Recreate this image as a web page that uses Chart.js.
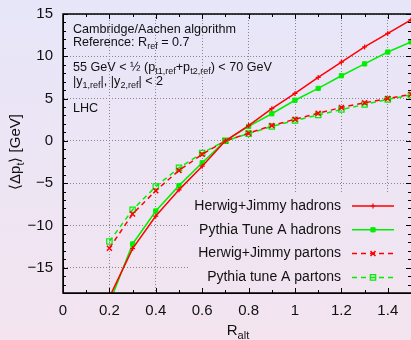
<!DOCTYPE html>
<html>
<head>
<meta charset="utf-8">
<script src="https://cdn.jsdelivr.net/npm/chart.js@4/dist/chart.umd.min.js"></script>
<style>
  html, body { margin: 0; padding: 0; }
  body {
    width: 411px; height: 340px; overflow: hidden;
    background: linear-gradient(#e7e6f9, #f3e4ef);
  }
</style>
</head>
<body>
<canvas id="chart" width="411" height="340"></canvas>
<script>
// ------------------------------------------------------------
// DATA
// ------------------------------------------------------------
const R_ALT = [0.2, 0.3, 0.4, 0.5, 0.6, 0.7, 0.8, 0.9, 1.0, 1.1, 1.2, 1.3, 1.4, 1.5];

const herwigHadrons  = [-18.5, -12.75, -8.9, -5.8, -3.0, 0.0, 1.8, 3.8, 5.6, 7.5, 9.3, 11.1, 12.7, 14.3];
const pythiaHadrons  = [-19.2, -12.2, -8.3, -5.3, -2.6, 0.0, 1.7, 3.2, 4.8, 6.2, 7.7, 9.1, 10.5, 11.7];
const herwigPartons  = [-12.7, -8.65, -5.9, -3.5, -1.6, 0.0, 0.9, 1.8, 2.55, 3.25, 3.95, 4.5, 5.0, 5.5];
const pythiaPartons  = [-11.9, -8.15, -5.4, -3.2, -1.45, 0.0, 0.85, 1.7, 2.4, 3.05, 3.7, 4.3, 4.9, 5.4];

const SERIES_LABELS = [
  "Herwig+Jimmy hadrons",
  "Pythia Tune A hadrons",
  "Herwig+Jimmy partons",
  "Pythia tune A partons"
];

const X_TICKS       = [0, 0.2, 0.4, 0.6, 0.8, 1.0, 1.2, 1.4];
const X_MINOR_TICKS = [0.1, 0.3, 0.5, 0.7, 0.9, 1.1, 1.3, 1.5];
const Y_TICKS       = [-15, -10, -5, 0, 5, 10, 15];
const Y_MINOR_TICKS = [-18, -17, -16, -14, -13, -12, -11, -9, -8, -7, -6, -4, -3, -2, -1,
                       1, 2, 3, 4, 6, 7, 8, 9, 11, 12, 13, 14];

// annotation lines: [text, subscript?]
const INFO_LINES = [
  [["Cambridge/Aachen algorithm"]],
  [["Reference: R"], ["ref", 1], [" = 0.7"]],
  [["55 GeV < \u00bd (p"], ["t1,ref", 1], ["+p"], ["t2,ref", 1], [") < 70 GeV"]],
  [["|y"], ["1,ref", 1], ["|, |y"], ["2,ref", 1], ["| < 2"]],
  [["LHC"]]
];

// ------------------------------------------------------------
// HELFER
// ------------------------------------------------------------
const FONT = '"Liberation Sans", Arial, Helvetica, sans-serif';
const RED = "#ff0000";
const GREEN = "#00ee00";

function pts(values) {
  return values.map((v, i) => ({ x: R_ALT[i], y: v }));
}

function makeDataset(label, values, color, style, dashed) {
  return {
    label,
    data: pts(values),
    borderColor: color,
    backgroundColor: color,
    borderWidth: 1.5,
    borderDash: dashed ? [5, 4] : [],
    pointStyle: style.shape,
    pointRadius: style.r,
    pointBorderWidth: style.bw,
    pointBackgroundColor: style.fill ? color : "rgba(0,0,0,0)",
    pointBorderColor: color,
    tension: 0,
    clip: 0
  };
}

function fmtY(v) {
  return v < 0 ? "\u2212" + Math.abs(v) : String(v);
}

function richText(ctx, parts, x, y, size, align) {
  const big = size + "px " + FONT;
  const small = Math.round(size * 0.72) + "px " + FONT;
  let w = 0;
  parts.forEach(([t, sub]) => { ctx.font = sub ? small : big; w += ctx.measureText(t).width; });
  let cx = align === "right" ? x - w : align === "center" ? x - w / 2 : x;
  parts.forEach(([t, sub]) => {
    ctx.font = sub ? small : big;
    ctx.fillText(t, cx, sub ? y + size * 0.3 : y);
    cx += ctx.measureText(t).width;
  });
}

// legend box, inner ticks, frame and annotations
const decorations = {
  id: "decorations",
  beforeDatasetsDraw(chart) {
    const { ctx, chartArea: a } = chart;
    ctx.clearRect(188, 192, a.right - 188, a.bottom - 192);
  },
  afterDatasetsDraw(chart) {
    const { ctx, chartArea: a, scales: { x, y } } = chart;
    ctx.save();
    ctx.strokeStyle = "#000";
    ctx.lineWidth = 1;
    ctx.beginPath();
    const tick = (px, len, vertical) => {
      if (vertical) {
        ctx.moveTo(px, a.bottom); ctx.lineTo(px, a.bottom - len);
        ctx.moveTo(px, a.top);    ctx.lineTo(px, a.top + len);
      } else {
        ctx.moveTo(a.left, px);  ctx.lineTo(a.left + len, px);
        ctx.moveTo(a.right, px); ctx.lineTo(a.right - len, px);
      }
    };
    X_TICKS.forEach(v => tick(Math.round(x.getPixelForValue(v)) + 0.5, 5, true));
    X_MINOR_TICKS.forEach(v => tick(Math.round(x.getPixelForValue(v)) + 0.5, 3, true));
    Y_TICKS.forEach(v => tick(Math.round(y.getPixelForValue(v)) + 0.5, 5, false));
    Y_MINOR_TICKS.forEach(v => tick(Math.round(y.getPixelForValue(v)) + 0.5, 3, false));
    ctx.stroke();
    ctx.lineWidth = 1.5;
    ctx.strokeRect(a.left, a.top, a.right - a.left + 4, a.bottom - a.top);

    // annotations top left
    ctx.fillStyle = "#111";
    ctx.textBaseline = "middle";
    const infoY = [30, 43, 68, 82, 109];
    INFO_LINES.forEach((parts, i) => richText(ctx, parts, a.left + 10, infoY[i], 12.6, "left"));

    // legend
    chart.data.datasets.forEach((ds, i) => {
      const ly = 206 + i * 23.8;
      ctx.fillStyle = "#111";
      ctx.textAlign = "left";
      richText(ctx, [[ds.label]], 341, ly, 14, "right");
      ctx.save();
      ctx.strokeStyle = ds.borderColor;
      ctx.lineWidth = ds.borderWidth;
      ctx.setLineDash(ds.borderDash);
      ctx.beginPath();
      ctx.moveTo(352, ly); ctx.lineTo(394, ly);
      ctx.stroke();
      ctx.restore();
      ctx.save();
      ctx.strokeStyle = ds.pointBorderColor;
      ctx.fillStyle = ds.pointBackgroundColor;
      ctx.lineWidth = ds.pointBorderWidth;
      Chart.helpers.drawPoint(ctx, { pointStyle: ds.pointStyle, radius: ds.pointRadius, rotation: 0, borderWidth: ds.pointBorderWidth }, 373, ly);
      ctx.restore();
    });

    // axis titles
    ctx.fillStyle = "#111";
    richText(ctx, [["R"], ["alt", 1]], 238, 331, 15, "center");
    ctx.translate(16, 152);
    ctx.rotate(-Math.PI / 2);
    richText(ctx, [["\u27e8\u0394p"], ["t", 1], ["\u27e9 [GeV]"]], 0, 0, 15, "center");
    ctx.restore();
  }
};

// ------------------------------------------------------------
// CHART
// ------------------------------------------------------------
const datasets = [
  makeDataset(SERIES_LABELS[0], herwigHadrons, RED,   { shape: "cross",    r: 2.5, bw: 1.2, fill: false }, false),
  makeDataset(SERIES_LABELS[1], pythiaHadrons, GREEN, { shape: "rect",     r: 3,   bw: 1,   fill: true  }, false),
  makeDataset(SERIES_LABELS[2], herwigPartons, RED,   { shape: "crossRot", r: 3.5, bw: 1.5, fill: false }, true),
  makeDataset(SERIES_LABELS[3], pythiaPartons, GREEN, { shape: "rect",     r: 3.8, bw: 1.2, fill: false }, true)
];

new Chart(document.getElementById("chart"), {
  type: "line",
  data: { datasets },
  options: {
    responsive: false,
    animation: false,
    layout: { autoPadding: false, padding: { top: 14, right: 0, left: 0, bottom: 0 } },
    plugins: {
      legend: { display: false },
      tooltip: { enabled: false }
    },
    scales: {
      x: {
        type: "linear",
        min: 0,
        max: 1.5,
        afterBuildTicks: s => { s.ticks = X_TICKS.map(v => ({ value: v })); },
        afterFit: s => { s.height = 47; s.paddingLeft = 0; s.paddingRight = 0; },
        ticks: {
          autoSkip: false,
          maxRotation: 0,
          padding: 9,
          color: "#111",
          font: { family: FONT, size: 15 },
          callback: v => String(Number(v.toFixed(1)))
        },
        grid: { color: "#888", lineWidth: 1, drawTicks: false },
        border: { display: true, color: "#000", dash: [1, 2] }
      },
      y: {
        type: "linear",
        min: -18,
        max: 15,
        afterBuildTicks: s => { s.ticks = Y_TICKS.map(v => ({ value: v })); },
        afterFit: s => { s.width = 63; s.paddingTop = 0; s.paddingBottom = 0; },
        ticks: {
          padding: 10,
          color: "#111",
          font: { family: FONT, size: 15 },
          callback: v => fmtY(v)
        },
        grid: { color: "#888", lineWidth: 1, drawTicks: false },
        border: { display: true, color: "#000", dash: [1, 2] }
      }
    }
  },
  plugins: [decorations]
});
</script>
</body>
</html>
